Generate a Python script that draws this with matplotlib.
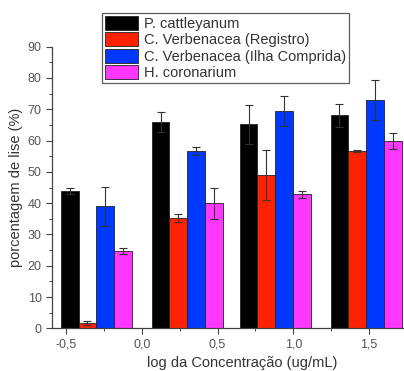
import matplotlib
matplotlib.use("Agg")
import matplotlib.pyplot as plt
import numpy as np
from matplotlib.ticker import MultipleLocator, FuncFormatter

plt.rcParams['font.family'] = ['Liberation Sans', 'DejaVu Sans']

# data
log_conc = [-0.30, 0.30, 0.88, 1.48]
series = ["P. cattleyanum", "C. Verbenacea (Registro)",
          "C. Verbenacea (Ilha Comprida)", "H. coronarium"]
p_cattleyanum = [44.0, 66.0, 65.2, 68.1]
p_cattleyanum_err = [1.0, 3.2, 6.2, 3.7]
c_registro = [1.6, 35.3, 49.0, 56.6]
c_registro_err = [0.6, 1.3, 8.0, 0.3]
c_ilha = [39.0, 56.6, 69.4, 72.9]
c_ilha_err = [6.3, 1.2, 4.8, 6.4]
h_coronarium = [24.8, 39.9, 42.8, 59.8]
h_coronarium_err = [1.0, 5.0, 1.0, 2.5]

colors = ["#000000", "#ff2200", "#0038ff", "#ff38ff"]
values = [p_cattleyanum, c_registro, c_ilha, h_coronarium]
errors = [p_cattleyanum_err, c_registro_err, c_ilha_err, h_coronarium_err]

fig = plt.figure(figsize=(4.04, 3.71), dpi=100)
ax = fig.add_axes([52 / 404, 1 - 328.3 / 371, 380 / 404, 281.6 / 371])

w = 0.117
x = np.array(log_conc)
handles = []
for i in range(4):
    b = ax.bar(x + (i - 1.5) * w, values[i], w, color=colors[i],
               edgecolor="#222222", linewidth=0.6, label=series[i])
    ax.errorbar(x + (i - 1.5) * w, values[i], yerr=errors[i], fmt="none",
                ecolor="#333333", elinewidth=0.8, capsize=3, capthick=0.8)
    handles.append(b)

ax.set_xlim(-0.592, 1.915)
ax.set_ylim(0, 90)
ax.xaxis.set_major_locator(MultipleLocator(0.5))
ax.xaxis.set_minor_locator(MultipleLocator(0.25))
ax.yaxis.set_major_locator(MultipleLocator(10))
ax.yaxis.set_minor_locator(MultipleLocator(5))
ax.xaxis.set_major_formatter(FuncFormatter(lambda v, p: ("%.1f" % v).replace(".", ",")))
ax.yaxis.set_major_formatter(FuncFormatter(lambda v, p: "%d" % v))

for s in ["top", "right"]:
    ax.spines[s].set_visible(False)
for s in ["left", "bottom"]:
    ax.spines[s].set_color("#444444")
    ax.spines[s].set_linewidth(0.9)
ax.tick_params(axis="both", which="major", direction="out", length=4,
               width=0.8, color="#444444", labelsize=9, labelcolor="#555555")
ax.tick_params(axis="both", which="minor", direction="out", length=2,
               width=0.7, color="#444444")

ax.set_xlabel("log da Concentração (ug/mL)", fontsize=10.5, color="#333333", labelpad=4)
ax.set_ylabel("porcentagem de lise (%)", fontsize=10.5, color="#333333", labelpad=3)
ax.xaxis.set_label_coords((242 - 52) / 380, -0.1)

leg = fig.legend(handles=handles, loc="upper left",
                 bbox_to_anchor=(102 / 404, 1 - 13 / 371), fontsize=10.5,
                 frameon=True, fancybox=False, edgecolor="#333333",
                 handlelength=2.3, handleheight=1.1, labelspacing=0.1,
                 handletextpad=0.35, borderpad=0.2, borderaxespad=0)
leg.get_frame().set_linewidth(0.9)
for t in leg.get_texts():
    t.set_color("#333333")

fig.savefig("out.png", dpi=100)
